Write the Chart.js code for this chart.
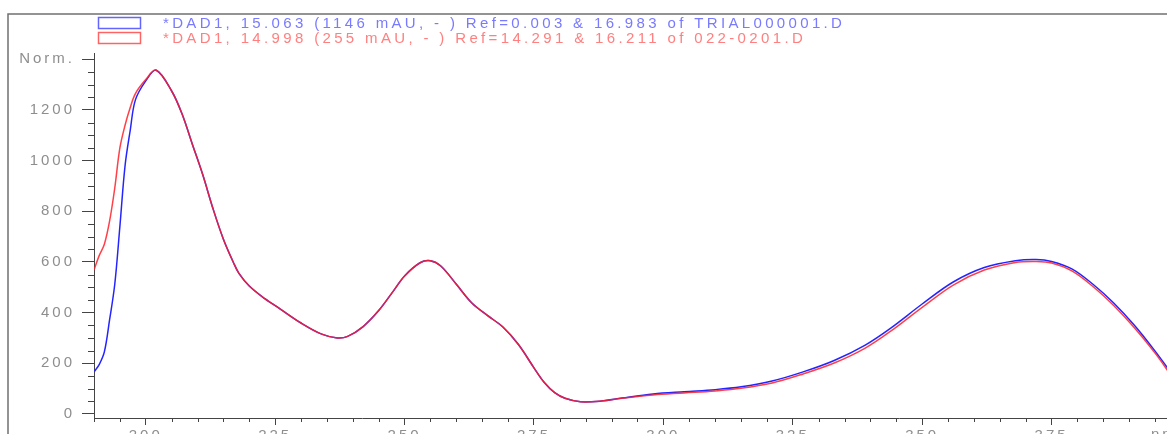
<!DOCTYPE html>
<html>
<head>
<meta charset="utf-8">
<script src="https://cdn.jsdelivr.net/npm/chart.js@4/dist/chart.umd.min.js"></script>
<style>
  html, body { margin: 0; padding: 0; background: #fff; }
  #wrap { position: relative; width: 1167px; height: 434px; }
</style>
</head>
<body>
<div id="wrap"><canvas id="spectrum"></canvas></div>
<script>
const wavelengths = [190, 191, 192, 193, 194, 195, 196, 197, 198, 200, 202, 205, 207, 209, 211, 213, 215, 217, 218, 220,
  223, 226, 230, 234, 237, 239, 242, 245, 248, 250, 253, 255, 257, 260, 263, 266, 269, 272, 275, 277,
  279, 281, 284, 288, 292, 298, 304, 310, 315, 321, 327, 333, 339, 344, 350, 356, 362, 368, 372, 375,
  379, 383, 387, 391, 395, 398];

const trialValues = [166, 195, 245, 370, 510, 740, 980, 1120, 1240, 1315, 1357, 1275, 1185, 1065, 945, 810, 690, 595, 555, 505,
  455, 414, 359, 315, 300, 306, 345, 408, 490, 545, 597, 605, 584, 512, 438, 389, 343, 274, 182, 124,
  84, 62, 48, 51, 63, 79, 88, 96, 107, 130, 166, 211, 272, 340, 434, 521, 578, 605, 610, 602,
  572, 512, 438, 350, 248, 165];

const sampleValues = [568, 625, 670, 760, 890, 1050, 1140, 1210, 1265, 1320, 1358, 1275, 1185, 1065, 945, 810, 690, 595, 555, 505,
  455, 414, 359, 315, 300, 306, 345, 408, 490, 545, 597, 605, 584, 512, 438, 389, 343, 274, 182, 124,
  84, 62, 48, 51, 62, 75, 83, 91, 101, 122, 158, 201, 260, 328, 421, 509, 568, 598, 602, 596,
  564, 503, 428, 340, 240, 155];

const legendLabels = [
  '*DAD1, 15.063 (1146 mAU, - ) Ref=0.003 & 16.983 of TRIAL000001.D',
  '*DAD1, 14.998 (255 mAU, - ) Ref=14.291 & 16.211 of 022-0201.D'
];

const axisFont = { family: "'Liberation Sans', Arial, sans-serif", size: 15 };
const tickGray = '#8e8e8e';

const toPoints = (vals) => wavelengths.map((w, i) => ({ x: w, y: vals[i] }));

// wide letter spacing like the ChemStation print
const spacingPlugin = {
  id: 'spacing',
  beforeDraw(chart) { chart.ctx.letterSpacing = '3px'; }
};

// frame, minor ticks, legend and axis unit
const decorPlugin = {
  id: 'decor',
  afterDraw(chart) {
    const { ctx, scales: { x, y } } = chart;
    ctx.save();

    ctx.strokeStyle = '#707070';
    ctx.lineWidth = 1.5;
    ctx.beginPath();
    ctx.moveTo(8, 434);
    ctx.lineTo(8, 14);
    ctx.lineTo(1167, 14);
    ctx.stroke();

    ctx.strokeStyle = '#444';
    ctx.lineWidth = 1;
    ctx.beginPath();
    for (let v = 190; v <= x.max; v += 5) {
      if (v % 25 === 0) continue;
      const px = Math.round(x.getPixelForValue(v)) + 0.5;
      ctx.moveTo(px, y.bottom);
      ctx.lineTo(px, y.bottom + 4);
    }
    for (let v = 0; v <= y.max; v += 50) {
      if (v % 200 === 0) continue;
      const py = Math.round(y.getPixelForValue(v)) + 0.5;
      ctx.moveTo(x.left - 6, py);
      ctx.lineTo(x.left, py);
    }
    ctx.stroke();

    ctx.font = "15px 'Liberation Sans', Arial, sans-serif";
    ctx.letterSpacing = '3.35px';
    ctx.textBaseline = 'alphabetic';
    const boxStroke = ['#6464ff', '#ff6464'];
    const textColor = ['#7a7aff', '#ff8080'];
    legendLabels.forEach((label, i) => {
      const top = 17 + i * 15;
      ctx.strokeStyle = boxStroke[i];
      ctx.lineWidth = 1.5;
      ctx.strokeRect(98.5, top + 0.5, 42, 11);
      ctx.fillStyle = textColor[i];
      ctx.fillText(label, 163, top + 11);
    });

    ctx.fillStyle = tickGray;
    ctx.font = "15px 'Liberation Sans', Arial, sans-serif";
    ctx.letterSpacing = '3px';
    ctx.textBaseline = 'top';
    ctx.fillText('nm', 1151, 427);
    ctx.restore();
  }
};

new Chart(document.getElementById('spectrum'), {
  type: 'line',
  data: {
    datasets: [
      {
        label: legendLabels[0],
        data: toPoints(trialValues),
        borderColor: '#2424ff',
        borderWidth: 1.5,
        pointRadius: 0,
        tension: 0.35,
        fill: false,
        order: 1
      },
      {
        label: legendLabels[1],
        data: toPoints(sampleValues),
        borderColor: 'rgba(255, 30, 40, 0.85)',
        borderWidth: 1.5,
        pointRadius: 0,
        tension: 0.35,
        fill: false,
        order: 0
      }
    ]
  },
  options: {
    responsive: true,
    maintainAspectRatio: false,
    animation: false,
    events: [],
    layout: { padding: { top: 53, right: 0, left: 0, bottom: 0 } },
    plugins: { legend: { display: false }, tooltip: { enabled: false } },
    scales: {
      x: {
        type: 'linear',
        min: 190,
        max: 397.3,
        afterFit: (scale) => { scale.height = 16; },
        border: { color: '#444', width: 1 },
        grid: { drawOnChartArea: false, drawTicks: true, tickLength: 7, tickColor: '#444' },
        ticks: {
          stepSize: 25,
          includeBounds: false,
          autoSkip: false,
          maxRotation: 0,
          padding: 2,
          color: tickGray,
          font: axisFont
        }
      },
      y: {
        type: 'linear',
        min: -16,
        max: 1425,
        afterFit: (scale) => { scale.width = 94; },
        border: { color: '#444', width: 1 },
        grid: { drawOnChartArea: false, drawTicks: true, tickLength: 12, tickColor: '#444' },
        ticks: {
          stepSize: 200,
          includeBounds: false,
          padding: 7,
          color: tickGray,
          font: axisFont,
          callback: (v) => (v === 1400 ? 'Norm.' : v)
        }
      }
    }
  },
  plugins: [spacingPlugin, decorPlugin]
});
</script>
</body>
</html>
